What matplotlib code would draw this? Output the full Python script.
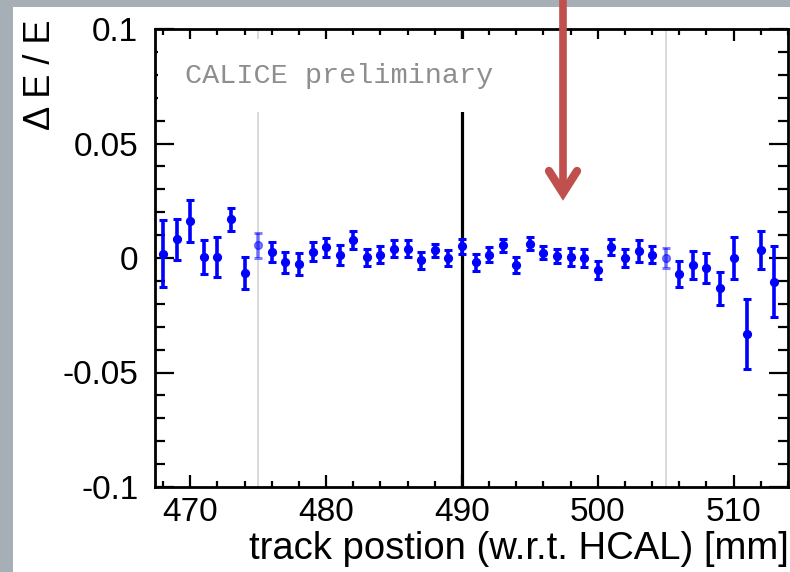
import matplotlib
matplotlib.use("Agg")
import matplotlib.pyplot as plt
from matplotlib.patches import Rectangle
from matplotlib.lines import Line2D
from matplotlib.ticker import FixedLocator, MultipleLocator
import numpy as np

# ---- data ----
track_pos = [468, 469, 470, 471, 472, 473, 474, 475, 476, 477, 478, 479, 480,
             481, 482, 483, 484, 485, 486, 487, 488, 489, 490, 491, 492, 493,
             494, 495, 496, 497, 498, 499, 500, 501, 502, 503, 504, 505, 506,
             507, 508, 509, 510, 511, 512, 513]
dE_over_E = [0.0019, 0.0081, 0.0162, 0.0004, 0.0004, 0.0169, -0.0065, 0.0056,
             0.0027, -0.0018, -0.0025, 0.0027, 0.0046, 0.0012, 0.0078, 0.0004,
             0.0015, 0.0041, 0.0041, -0.0010, 0.0034, 0.0000, 0.0051, -0.0018,
             0.0015, 0.0056, -0.0032, 0.0063, 0.0024, 0.0009, 0.0004, 0.0000,
             -0.0052, 0.0049, 0.0000, 0.0030, 0.0015, 0.0000, -0.0069, -0.0030,
             -0.0043, -0.0133, 0.0000, -0.0332, 0.0037, -0.0103]
dE_err = [0.0147, 0.0090, 0.0093, 0.0073, 0.0088, 0.0050, 0.0070, 0.0054,
          0.0044, 0.0046, 0.0049, 0.0042, 0.0042, 0.0044, 0.0039, 0.0037,
          0.0039, 0.0037, 0.0037, 0.0037, 0.0029, 0.0033, 0.0034, 0.0037,
          0.0031, 0.0028, 0.0035, 0.0027, 0.0029, 0.0031, 0.0040, 0.0040,
          0.0038, 0.0035, 0.0040, 0.0047, 0.0039, 0.0042, 0.0057, 0.0062,
          0.0066, 0.0071, 0.0092, 0.0151, 0.0083, 0.0155]
x_ticks = [470, 480, 490, 500, 510]
x_ticklabels = ["470", "480", "490", "500", "510"]
y_ticks = [-0.1, -0.05, 0.0, 0.05, 0.1]
y_ticklabels = ["-0.1", "-0.05", "0", "0.05", "0.1"]
boundary_lines = [475, 505]
centre_line = 490

W, H = 790, 572
fig = plt.figure(figsize=(W / 100, H / 100), dpi=100, facecolor="#a6afb5")
# white slide area
fig.patches.append(Rectangle((13 / W, 0), 1 - 13 / W, (H - 7) / H,
                             transform=fig.transFigure, facecolor="white",
                             edgecolor="none", zorder=-5))

ax = fig.add_axes([155 / W, (H - 487) / H, (788 - 155) / W, (487 - 29) / H])
ax.set_xlim(467.4, 514.0)
ax.set_ylim(-0.1, 0.1)
ax.set_facecolor("white")

# reference lines
for xb in boundary_lines:
    ax.axvline(xb, color="#d4d4d4", lw=1.2, zorder=1)
ax.axvline(centre_line, color="black", lw=2.3, zorder=1)

# white label box and label
ax.add_patch(Rectangle((467.6, 0.0637), 500.5 - 467.6, 0.0956 - 0.0637,
                       facecolor="white", edgecolor="none", zorder=2))
ax.text(469.6, 0.0795, "CALICE preliminary", family="Liberation Mono",
        fontsize=20.5, color="#8e8e8e", ha="left", va="center", zorder=3)

# data
xs = np.array(track_pos)
ys = np.array(dE_over_E)
es = np.array(dE_err)
faded = np.isin(xs, boundary_lines)
for mask, alpha in [(~faded, 1.0), (faded, 0.5)]:
    ax.errorbar(xs[mask], ys[mask], yerr=es[mask], fmt="o", color="#0000ff",
                ms=5.6, elinewidth=2.6, capsize=2.6, capthick=2.2,
                alpha=alpha, zorder=4)

# ticks
ax.xaxis.set_major_locator(FixedLocator(x_ticks))
ax.set_xticklabels(x_ticklabels)
ax.xaxis.set_minor_locator(MultipleLocator(2))
ax.yaxis.set_major_locator(FixedLocator(y_ticks))
ax.set_yticklabels(y_ticklabels)
ax.yaxis.set_minor_locator(MultipleLocator(0.01))
ax.tick_params(axis="both", which="both", direction="in", top=True,
               right=True, width=1.6, colors="black")
ax.tick_params(axis="x", which="major", length=8.5, pad=7)
ax.tick_params(axis="x", which="minor", length=4.3)
ax.tick_params(axis="y", which="major", length=14, pad=12)
ax.tick_params(axis="y", which="minor", length=7)
for lab in ax.get_xticklabels() + ax.get_yticklabels():
    lab.set_family("Liberation Sans")
    lab.set_fontsize(24)
for sp in ax.spines.values():
    sp.set_linewidth(2.0)
    sp.set_zorder(5)

fig.text(789 / W, 1 - 549 / H, "track postion (w.r.t. HCAL) [mm]",
         family="Liberation Sans", fontsize=27.5, ha="right", va="center")
fig.text(41 / W, 1 - 75 / H, "\u0394 E / E", family="Liberation Sans",
         fontsize=26, rotation=90, ha="center", va="center")

# red arrow on the slide
red = "#c0504d"
fig.lines.append(Line2D([563 / W, 563 / W], [1.0, 1 - 190 / H],
                        transform=fig.transFigure, color=red, lw=5.5,
                        solid_capstyle="butt", zorder=10))
fig.lines.append(Line2D([549 / W, 563 / W, 577 / W],
                        [1 - 171 / H, 1 - 193 / H, 1 - 171 / H],
                        transform=fig.transFigure, color=red, lw=6,
                        solid_joinstyle="miter", solid_capstyle="round",
                        zorder=10))

fig.savefig("out.png", dpi=100, facecolor=fig.get_facecolor())
